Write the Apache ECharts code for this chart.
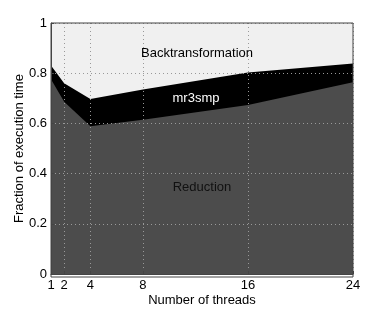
<!DOCTYPE html>
<html><head><meta charset="utf-8">
<script src="https://cdn.jsdelivr.net/npm/echarts@6/dist/echarts.min.js"></script>
<style>html,body{margin:0;padding:0;background:#fff}#c{width:390px;height:312px}</style>
</head><body><div id="c"></div>
<script>
const threads = [1, 2, 4, 8, 16, 24];
const xTicks = [1, 2, 4, 8, 16, 24];
const yTicks = [0, 0.2, 0.4, 0.6, 0.8, 1];
const reduction = [0.776, 0.686, 0.589, 0.615, 0.673, 0.764];
const mr3smp = [0.055, 0.074, 0.108, 0.120, 0.130, 0.075];
const backtransformation = [0.169, 0.240, 0.303, 0.265, 0.197, 0.161];

// cumulative tops of each stacked band
const cumRed = reduction.slice();
const cumMr = reduction.map((v, i) => v + mr3smp[i]);
const cumBack = cumMr.map((v, i) => v + backtransformation[i]);

const font = 'Liberation Sans, Arial, Helvetica, sans-serif';
const chart = echarts.init(document.getElementById('c'), null, {renderer: 'canvas'});
const mk = (name, vals, color, z) => ({
  name, type: 'line', symbol: 'none', smooth: false,
  data: threads.map((t, i) => [t, vals[i]]),
  lineStyle: {width: 0}, areaStyle: {color: color, opacity: 1, origin: 'start'}, z: z
});
chart.setOption({
  animation: false,
  grid: {left: 51, right: 37, top: 23, bottom: 35, show: false},
  xAxis: {
    type: 'value', min: 1, max: 24, z: 5,
    name: 'Number of threads', nameLocation: 'middle', nameGap: 20, nameMoveOverlap: false,
    nameTextStyle: {fontFamily: font, fontSize: 13, color: '#000'},
    axisLine: {show: true, onZero: false, lineStyle: {color: '#444'}},
    axisTick: {show: true, inside: true, length: 3, lineStyle: {color: '#444'},
      customValues: xTicks},
    axisLabel: {fontFamily: font, fontSize: 13, color: '#000', margin: 5,
      customValues: xTicks},
    splitLine: {show: true, lineStyle: {color: '#999', type: [1, 3], width: 1},
      customValues: xTicks}
  },
  yAxis: {
    type: 'value', min: 0, max: 1, interval: 0.2, z: 5,
    name: 'Fraction of execution time', nameLocation: 'middle', nameGap: 25, nameMoveOverlap: false,
    nameTextStyle: {fontFamily: font, fontSize: 13, color: '#000'},
    axisLine: {show: true, lineStyle: {color: '#444'}},
    axisTick: {show: true, inside: true, length: 3, lineStyle: {color: '#444'}},
    axisLabel: {fontFamily: font, fontSize: 13, color: '#000', margin: 4,
      formatter: v => (Math.round(v * 10) / 10).toString()},
    splitLine: {show: true, lineStyle: {color: '#999', type: [1, 3], width: 1}}
  },
  series: [
    mk('Backtransformation', cumBack, '#f0f0f0', 1),
    mk('mr3smp', cumMr, '#000000', 2),
    mk('Reduction', cumRed, '#4c4c4c', 3)
  ],
  graphic: [
    {type: 'rect', shape: {x: 51, y: 23, width: 302, height: 254}, z: 10,
      style: {fill: null, stroke: '#444', lineWidth: 1}, silent: true},
    {type: 'text', x: 197, y: 53, z: 11, style: {text: 'Backtransformation', fill: '#000', font: '13px ' + font, align: 'center', verticalAlign: 'middle'}},
    {type: 'text', x: 196, y: 98, z: 11, style: {text: 'mr3smp', fill: '#fff', font: '13px ' + font, align: 'center', verticalAlign: 'middle'}},
    {type: 'text', x: 202, y: 187, z: 11, style: {text: 'Reduction', fill: '#111', font: '13px ' + font, align: 'center', verticalAlign: 'middle'}}
  ]
});
</script></body></html>
